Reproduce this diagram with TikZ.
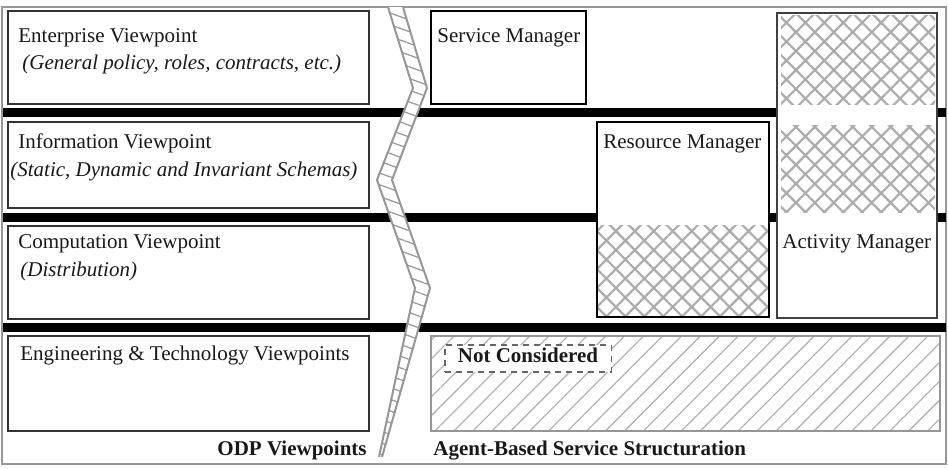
\documentclass[tikz,border=0pt]{standalone}
\usepackage{fontspec}
\setmainfont{Liberation Serif}
\usetikzlibrary{patterns.meta}
\definecolor{framegray}{RGB}{150,150,150}
\definecolor{hatchgray}{RGB}{172,172,172}
\definecolor{textdark}{RGB}{25,25,25}

\tikzset{
	box/.style={draw=black!80, line width=0.6pt, fill=white},
	cross/.style={pattern={Hatch[angle=45,distance=6.7pt,line width=1.1pt]}, pattern color=hatchgray},
	slant/.style={pattern={Lines[angle=45,distance=6.7pt,line width=0.55pt]}, pattern color=hatchgray},
	rungs/.style={pattern={Lines[angle=-20,distance=5.5pt,line width=0.6pt]}, pattern color=framegray},
	vp/.style={anchor=base west, inner sep=0pt, text=textdark, font=\fontsize{10.5pt}{12pt}\selectfont},
	sub/.style={vp, font=\fontsize{10.5pt}{12pt}\selectfont\itshape},
	caption/.style={anchor=base west, inner sep=0pt, font=\fontsize{10.5pt}{12pt}\selectfont\bfseries, text=textdark},
	notebox/.style={draw=black!60, dash pattern=on 3pt off 2.5pt, line width=0.6pt, fill=white,
		font=\fontsize{10.5pt}{12pt}\selectfont\bfseries, text=textdark, anchor=base, inner xsep=6.5pt, inner ysep=3pt,
		text height=5.5pt, text depth=2pt}
}

\begin{document}
\begin{tikzpicture}[x=0.5pt, y=-0.5pt]
				\useasboundingbox (0,0) rectangle (948,468);
				
				% Outer frame and the three separator bars
				\draw[framegray, line width=1.2pt] (2,7) rectangle (946,464);
				\fill[black] (3,108) rectangle (946,117);
				\fill[black] (3,213) rectangle (946,222);
				\fill[black] (3,323) rectangle (946,332);
				
				% ODP viewpoint boxes on the left
				\draw[box] (8,11) rectangle (369,104);
				\draw[box] (8,122) rectangle (369,208);
				\draw[box] (8,226) rectangle (369,319);
				\draw[box] (8,336) rectangle (369,431);
				
				\node[vp] (ent) at (18,42) {Enterprise Viewpoint};
				\node[sub] (entsub) at (22,69) {(General policy, roles, contracts, etc.)};
				\node[vp] (info) at (18,148) {Information Viewpoint};
				\node[sub] (infosub) at (10,176) {(Static, Dynamic and Invariant Schemas)};
				\node[vp] (comp) at (18,248) {Computation Viewpoint};
				\node[sub] (compsub) at (20,276) {(Distribution)};
				\node[vp] (eng) at (20,360) {Engineering \& Technology Viewpoints};
				
				% Zigzag separator band
				\fill[white] (388,7) -- (413,88) -- (377,180) -- (415,288) -- (379,457)
					-- (382,457) -- (430,288) -- (392,180) -- (427,88) -- (403,7) -- cycle;
				\fill[rungs] (388,7) -- (413,88) -- (377,180) -- (415,288) -- (379,457)
					-- (382,457) -- (430,288) -- (392,180) -- (427,88) -- (403,7) -- cycle;
				\draw[framegray, line width=1pt, line join=miter] (388,7) -- (413,88) -- (377,180) -- (415,288) -- (379,457);
				\draw[framegray, line width=1pt, line join=miter] (403,7) -- (427,88) -- (392,180) -- (430,288) -- (382,457);
				
				% Agent-based managers on the right
				\draw[box, draw=black] (431,11) rectangle (586,104);
				\node[vp] (svcmgr) at (437,42) {Service Manager};
				
				\draw[framegray, line width=0.6pt, fill=white] (431,336) rectangle (940,431);
				\fill[slant] (431,336) rectangle (940,431);
				\draw[framegray, line width=0.6pt] (431,336) rectangle (940,431);
				\node[notebox] (notcons) at (528,362) {Not Considered};
				
				\fill[white] (597,122) rectangle (769,317);
				\fill[cross] (597,225) rectangle (769,317);
				\draw[box, fill=none, draw=black] (597,122) rectangle (769,317);
				\node[vp] (resmgr) at (603,148) {Resource Manager};
				
				\fill[white] (777,13) rectangle (937,318);
				\fill[cross] (781,15) rectangle (935,104);
				\fill[cross] (781,125) rectangle (935,212);
				\draw[box, fill=none, draw=black!75] (777,13) rectangle (937,318);
				\node[vp] (actmgr) at (782,248) {Activity Manager};
				
				% Captions under the two halves
				\node[caption, anchor=base east] (odp) at (367,455) {ODP Viewpoints};
				\node[caption] (agent) at (433,455) {Agent-Based Service Structuration};
			\end{tikzpicture}
\end{document}
